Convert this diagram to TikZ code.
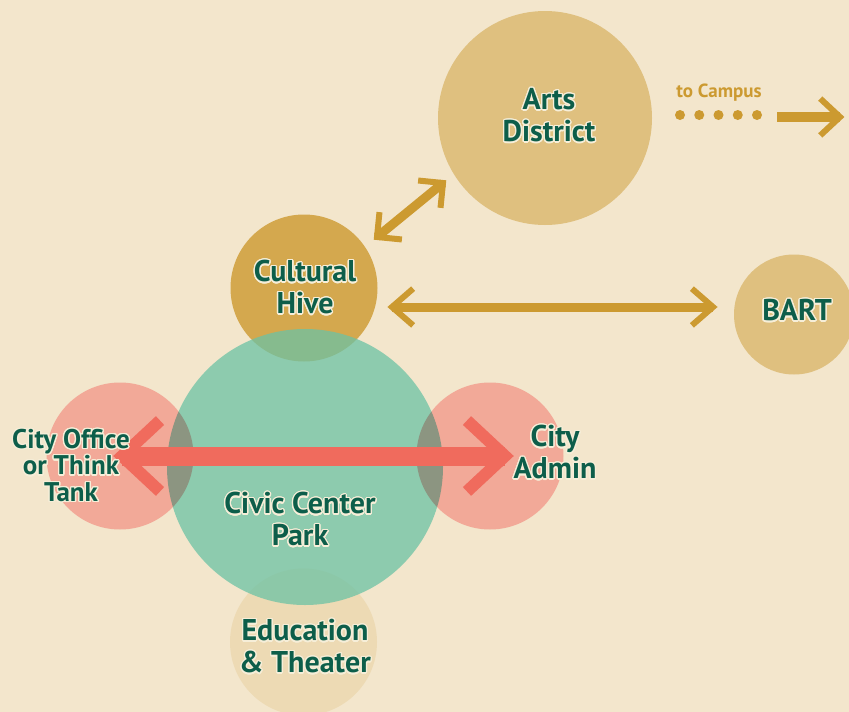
\documentclass[tikz,border=0pt]{standalone}
\usepackage{fontspec}
\setmainfont{PT Sans}
\usepackage[copies]{contour}
\usetikzlibrary{calc}
\definecolor{bg}{RGB}{243,230,204}
\definecolor{artsc}{RGB}{223,192,127}
\definecolor{hivec}{RGB}{212,168,78}
\definecolor{parkc}{RGB}{108,194,164}
\definecolor{pinkc}{RGB}{254,188,190}
\definecolor{educ}{RGB}{237,218,180}
\definecolor{goldc}{RGB}{204,154,48}
\definecolor{redc}{RGB}{240,107,93}
\definecolor{tgreen}{RGB}{13,94,74}
\definecolor{halo}{RGB}{246,238,216}
\contourlength{1.3pt}
\contournumber{24}
\newcommand\hl[1]{\contour{halo}{#1}}
\newcommand\mkhead[5]{\draw[#5] ($(#1)!#3!#4:(#2)$) -- (#1) -- ($(#1)!#3!-#4:(#2)$);}
\tikzset{
  disc/.style={circle, inner sep=0pt, draw=none},
  lbl/.style={font=\bfseries\fontsize{30}{32}\selectfont, text=tgreen, align=center, inner sep=0pt},
  redshaft/.style={draw=redc, line width=19pt, line cap=butt},
  redhead/.style={draw=redc, line width=12pt, line join=miter, line cap=butt},
  goldshaft/.style={draw=goldc, line width=9pt, line cap=butt},
  goldhead/.style={draw=goldc, line width=6pt, line join=miter, line cap=butt},
}
\begin{document}
\begin{tikzpicture}[x=1pt,y=-1pt]
\fill[bg] (0,0) rectangle (849,712);
\useasboundingbox (0,0) rectangle (849,712);
% circles
\node[disc, fill=educ, minimum size=147pt] (edu) at (303.5,642) {};
\node[disc, fill=hivec, minimum size=147pt] (hive) at (304,288) {};
\node[disc, fill=artsc, minimum size=214pt] (arts) at (545,118) {};
\node[disc, fill=artsc, minimum size=120pt] (bart) at (794,314.5) {};
\node[disc, fill=parkc, fill opacity=0.75, minimum size=276pt] (park) at (305,467) {};
\node[disc, fill=pinkc, blend mode=multiply, minimum size=147pt] (office) at (120,456) {};
\node[disc, fill=pinkc, blend mode=multiply, minimum size=147pt] (admin) at (490,456) {};
% connector end points
\coordinate (rL) at (122,456);
\coordinate (rR) at (505,456);
\coordinate (gL) at (392,307);
\coordinate (gR) at (713,307);
\coordinate (dA) at (377,237);
\coordinate (dB) at (443,183);
\coordinate (cA) at (777,117);
\coordinate (cB) at (840,117);
\coordinate (p1) at (680,115);
\coordinate (p2) at (757,115);
% red arrow
\draw[redshaft] (rL) -- (rR);
\mkhead{rL}{rR}{52pt}{43}{redhead}
\mkhead{rR}{rL}{52pt}{43}{redhead}
% gold horizontal
\draw[goldshaft] (gL) -- (gR);
\mkhead{gL}{gR}{28pt}{41}{goldhead}
\mkhead{gR}{gL}{28pt}{41}{goldhead}
% diagonal
\draw[goldshaft] (dA) -- (dB);
\mkhead{dA}{dB}{25pt}{45}{goldhead}
\mkhead{dB}{dA}{25pt}{45}{goldhead}
% to campus
\draw[draw=goldc, line width=10pt, line cap=round, dash pattern=on 0pt off 19.25pt] (p1) -- (p2);
\draw[draw=goldc, line width=10pt, line cap=butt] (cA) -- (cB);
\mkhead{cB}{cA}{27pt}{43}{goldhead}
\node[font=\bfseries\fontsize{19}{21}\selectfont, text=goldc, inner sep=0pt] (campus) at (719,93) {to Campus};
% labels
\node[lbl] (artsT) at (549,116) {\hl{Arts}\\\hl{District}};
\node[lbl] (hiveT) at (305,288) {\hl{Cultural}\\\hl{Hive}};
\node[lbl] (bartT) at (797,311) {\hl{BART}};
\node[lbl, font=\bfseries\fontsize{27}{26.5}\selectfont] (officeT) at (71,466) {\hl{City Office}\\\hl{or Think}\\\hl{Tank}};
\node[lbl] (adminT) at (555,453) {\hl{City}\\\hl{Admin}};
\node[lbl] (parkT) at (300,520) {\hl{Civic Center}\\\hl{Park}};
\node[lbl] (eduT) at (305,647) {\hl{Education}\\\hl{\&~Theater}};
\end{tikzpicture}
\end{document}
